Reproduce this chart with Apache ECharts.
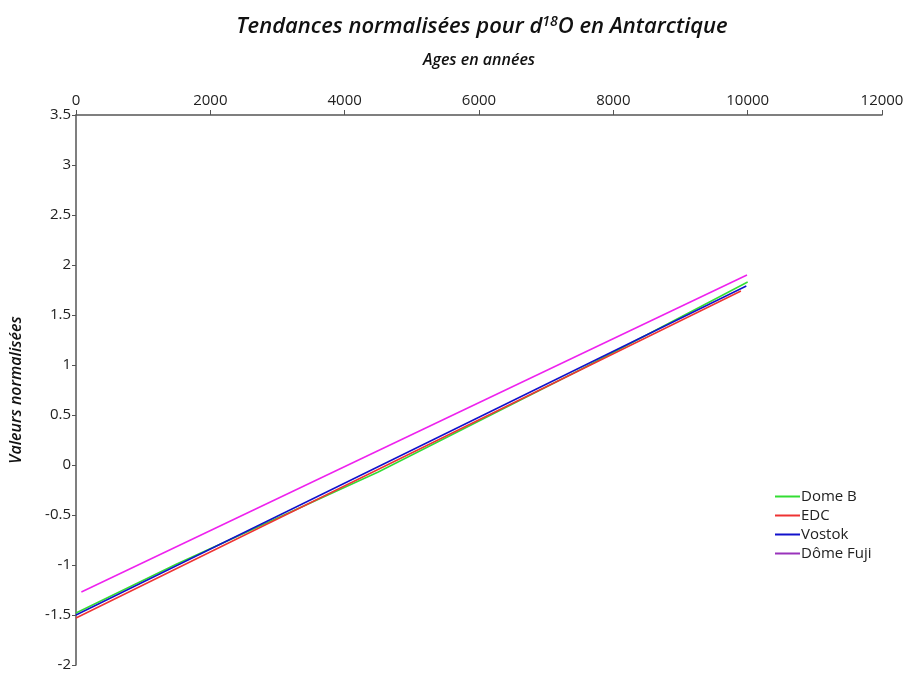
<!DOCTYPE html>
<html>
<head>
<meta charset="utf-8">
<script src="https://cdn.jsdelivr.net/npm/echarts@6/dist/echarts.min.js"></script>
<style>
  html, body { margin: 0; padding: 0; background: #fff; }
  #chart { width: 917px; height: 675px; }
</style>
</head>
<body>
<div id="chart"></div>
<script>
var seriesNames = ["Dome B", "EDC", "Vostok", "Dôme Fuji"];
var seriesColors = ["#33dd33", "#ee3333", "#1111cc", "#ee22ee"];
var legendColors = ["#33dd33", "#ee3333", "#1111cc", "#9933bb"];

// [age, normalized value]
var domeB = [[0, -1.48], [1500, -0.99], [4500, -0.07], [7500, 0.95], [10000, 1.83]];
var edc = [[0, -1.53], [9900, 1.74]];
var vostok = [[0, -1.5], [9980, 1.79]];
var domeFuji = [[80, -1.27], [9990, 1.9]];

var xTicks = { min: 0, max: 12000, interval: 2000 };
var yTicks = { min: -2, max: 3.5, interval: 0.5 };

var chart = echarts.init(document.getElementById("chart"));
var font = "'Open Sans', 'Noto Sans', sans-serif";

var allData = [domeB, edc, vostok, domeFuji];
var series = seriesNames.map(function(name, i) {
  return {
    name: name,
    type: "line",
    data: allData[i],
    showSymbol: false,
    color: legendColors[i],
    lineStyle: { color: seriesColors[i], width: 1.5 },
    z: i === 2 ? 4 : 2
  };
});

var option = {
  backgroundColor: "#fff",
  animation: false,
  title: {
    text: "Tendances normalisées pour d{sup|18}O en Antarctique",
    left: 477,
    textAlign: "center",
    top: 10,
    textStyle: {
      fontFamily: font,
      fontSize: 22,
      fontWeight: 600,
      fontStyle: "italic",
      color: "#111",
      rich: {
        sup: {
          fontFamily: font,
          fontSize: 14,
          fontWeight: 600,
          fontStyle: "italic",
          color: "#111",
          verticalAlign: "top",
          padding: [0, 0, 10, 0]
        }
      }
    }
  },
  legend: {
    orient: "vertical",
    left: 770,
    top: 484,
    itemWidth: 25,
    itemHeight: 2,
    itemGap: 4,
    icon: "rect",
    textStyle: { fontFamily: font, fontSize: 15, color: "#222", padding: [0, 0, 0, -4] },
    data: seriesNames.map(function(n, i) {
      return { name: n, itemStyle: { color: legendColors[i] } };
    })
  },
  grid: { left: 75, top: 115, right: 35, bottom: 10 },
  xAxis: {
    type: "value",
    position: "top",
    min: xTicks.min,
    max: xTicks.max,
    interval: xTicks.interval,
    name: "Ages en années",
    nameLocation: "middle",
    nameGap: 47,
    nameTextStyle: { fontFamily: font, fontSize: 16, fontWeight: 600, fontStyle: "italic", color: "#111" },
    axisLine: { onZero: false, lineStyle: { color: "#555", width: 1.5 } },
    axisTick: { length: 5, lineStyle: { color: "#555" } },
    axisLabel: {
      fontFamily: font, fontSize: 15, color: "#222", margin: 7,
      formatter: function(v) { return String(v); }
    },
    splitLine: { show: false }
  },
  yAxis: {
    type: "value",
    min: yTicks.min,
    max: yTicks.max,
    interval: yTicks.interval,
    name: "Valeurs normalisées",
    nameLocation: "middle",
    nameGap: 52,
    nameRotate: 90,
    nameTextStyle: { fontFamily: font, fontSize: 16, fontWeight: 600, fontStyle: "italic", color: "#111" },
    axisLine: { show: true, onZero: false, lineStyle: { color: "#555", width: 1.5 } },
    axisTick: { show: true, length: 4, lineStyle: { color: "#555" } },
    axisLabel: { fontFamily: font, fontSize: 15, color: "#222", margin: 5 },
    splitLine: { show: false }
  },
  series: series
};

chart.setOption(option);
</script>
</body>
</html>
